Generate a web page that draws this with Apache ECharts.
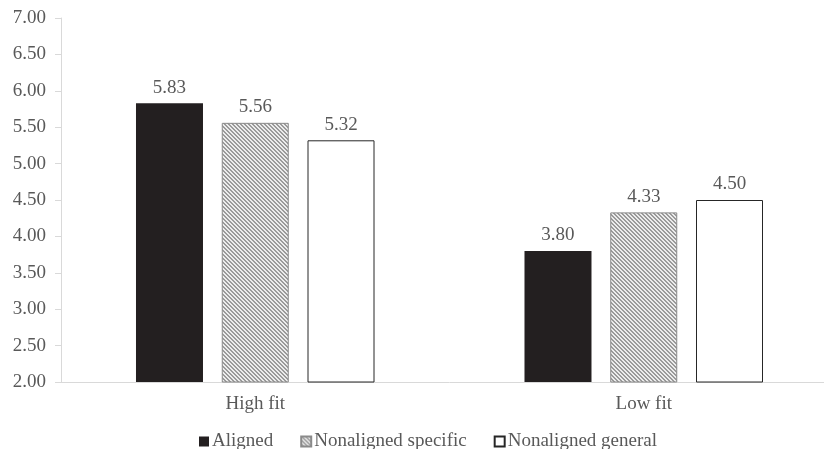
<!DOCTYPE html>
<html>
<head>
<meta charset="utf-8">
<script src="https://cdn.jsdelivr.net/npm/echarts@6/dist/echarts.min.js"></script>
<style>
  html, body { margin: 0; padding: 0; background: #fff; overflow: hidden; }
  /* canvas is a little wider than the window so the category axis runs off the right edge */
  #chart { width: 838px; height: 449px; }
</style>
</head>
<body>
<div id="chart"></div>
<script>
const categories = ['High fit', 'Low fit'];
const seriesNames = ['Aligned', 'Nonaligned specific', 'Nonaligned general'];
const aligned = [5.83, 3.80];
const nonalignedSpecific = [5.56, 4.33];
const nonalignedGeneral = [5.32, 4.50];
const yTicks = { min: 2, max: 7, step: 0.5 };

// Diagonal hatch tile for the "specific" bars
function hatchTile() {
  const size = 4;
  const c = document.createElement('canvas');
  c.width = size; c.height = size;
  const ctx = c.getContext('2d');
  ctx.fillStyle = '#ececec';
  ctx.fillRect(0, 0, size, size);
  ctx.fillStyle = '#9a9a9a';
  for (let i = 0; i < size; i++) {
    ctx.fillRect(i, i, 1, 1);
    ctx.fillRect((i + 1) % size, i, 1, 1);
  }
  return c;
}

const font = '"Liberation Serif", "Times New Roman", serif';
const textColor = '#595959';
const fontSize = 19;

const labelOpt = {
  show: true,
  position: 'top',
  distance: 6,
  color: textColor,
  fontFamily: font,
  fontSize: fontSize,
  formatter: p => p.value.toFixed(2)
};

const chart = echarts.init(document.getElementById('chart'));
chart.setOption({
  animation: false,
  textStyle: { fontFamily: font },
  grid: { left: 61, right: 0, top: 18, bottom: 67, containLabel: false },
  xAxis: {
    type: 'category',
    data: categories,
    axisLine: { lineStyle: { color: '#d9d9d9', width: 1 } },
    axisTick: { show: false },
    axisLabel: { color: textColor, fontFamily: font, fontSize: fontSize, margin: 13 }
  },
  yAxis: {
    type: 'value',
    min: yTicks.min,
    max: yTicks.max,
    interval: yTicks.step,
    splitLine: { show: false },
    axisLine: { show: true, lineStyle: { color: '#d9d9d9', width: 1 } },
    axisTick: { show: true, length: 6, lineStyle: { color: '#d9d9d9' } },
    axisLabel: {
      color: textColor, fontFamily: font, fontSize: fontSize, margin: 15,
      formatter: v => v.toFixed(2)
    }
  },
  legend: {
    top: 427,
    left: 194,
    itemWidth: 10,
    itemHeight: 10,
    itemGap: 27,
    icon: 'rect',
    textStyle: { color: textColor, fontFamily: font, fontSize: fontSize, padding: [0, 0, 0, -2] },
    data: seriesNames
  },
  series: [
    {
      name: seriesNames[0], type: 'bar', data: aligned,
      barWidth: 67, barGap: '28%',
      itemStyle: { color: '#231f20' },
      label: labelOpt
    },
    {
      name: seriesNames[1], type: 'bar', data: nonalignedSpecific,
      barWidth: 67,
      itemStyle: {
        color: { image: hatchTile(), repeat: 'repeat' },
        borderColor: '#8a8a8a', borderWidth: 1
      },
      label: labelOpt
    },
    {
      name: seriesNames[2], type: 'bar', data: nonalignedGeneral,
      barWidth: 67,
      itemStyle: { color: '#ffffff', borderColor: '#262626', borderWidth: 1 },
      label: labelOpt
    }
  ]
});
</script>
</body>
</html>
